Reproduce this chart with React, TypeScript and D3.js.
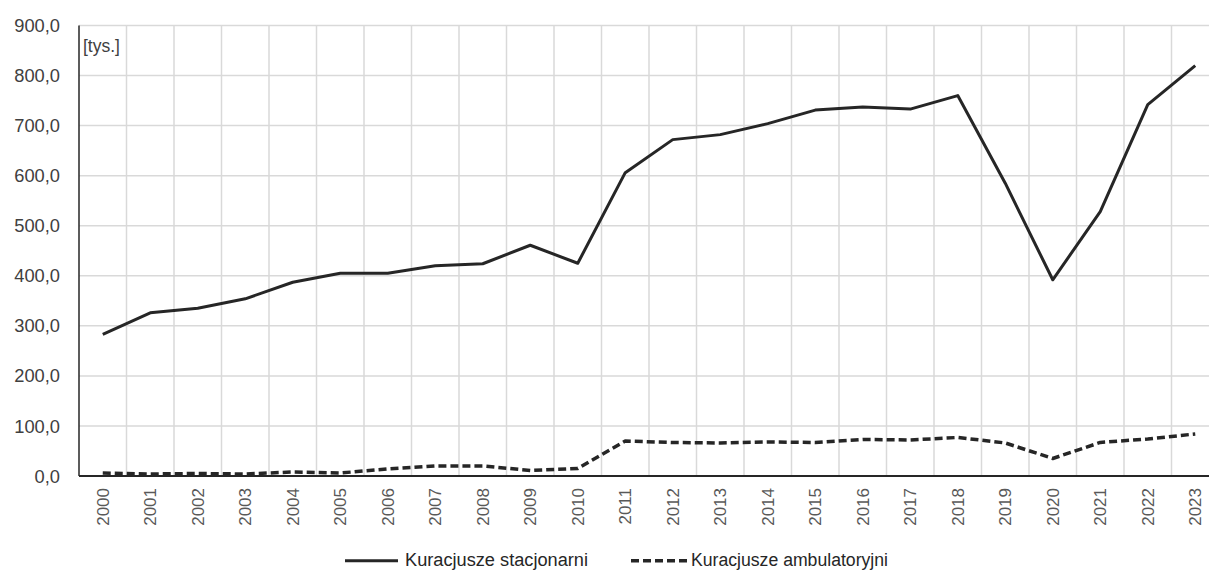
import React from "react";
import * as d3 from "d3";

const years: string[] = [
  "2000","2001","2002","2003","2004","2005","2006","2007","2008","2009","2010","2011",
  "2012","2013","2014","2015","2016","2017","2018","2019","2020","2021","2022","2023",
];
const stacjonarni: number[] = [
  283, 326, 335, 354, 387, 405, 405, 420, 424, 461, 425, 606,
  672, 682, 704, 731, 737, 733, 760, 585, 392, 528, 742, 820,
];
const ambulatoryjni: number[] = [
  6, 4, 5, 4, 8, 6, 14, 20, 20, 11, 15, 70,
  67, 66, 68, 67, 73, 72, 77, 66, 35, 67, 74, 84,
];
const yTicks: number[] = [0, 100, 200, 300, 400, 500, 600, 700, 800, 900];
const seriesNames: string[] = ["Kuracjusze stacjonarni", "Kuracjusze ambulatoryjni"];
const unitLabel = "[tys.]";

const W = 1209;
const H = 570;
const left = 79;
const bandW = 47.5;
const right = left + bandW * years.length;
const top = 25.5;
const bottom = 476;

export default function App() {
  const x = d3.scaleBand<string>().domain(years).range([left, right]).padding(0);
  const y = d3.scaleLinear().domain([0, 900]).range([bottom, top]);
  const cx = (yr: string) => (x(yr) as number) + x.bandwidth() / 2;
  const fmt = (v: number) => d3.format(".1f")(v).replace(".", ",");

  const line = d3
    .line<number>()
    .x((_, i) => cx(years[i]))
    .y((v) => y(v));

  const font = "'Liberation Sans', Arial, sans-serif";

  return (
    <svg
      width={W}
      height={H}
      style={{ position: "absolute", left: 0, top: 0, background: "#fff" }}
      fontFamily={font}
    >
      <rect x={0} y={0} width={W} height={H} fill="#fff" />
      {/* horizontal grid */}
      {yTicks.map((t) => (
        <line key={"h" + t} x1={left} x2={W} y1={y(t)} y2={y(t)} stroke="#d9d9d9" strokeWidth={1.5} />
      ))}
      {/* vertical grid */}
      {years.slice(1).map((yr) => (
        <line
          key={"v" + yr}
          x1={x(yr) as number}
          x2={x(yr) as number}
          y1={top}
          y2={bottom}
          stroke="#d9d9d9"
          strokeWidth={1.5}
        />
      ))}
      {/* axes */}
      <line x1={left} x2={left} y1={top} y2={bottom} stroke="#262626" strokeWidth={1.5} />
      <line x1={left} x2={W} y1={bottom} y2={bottom} stroke="#262626" strokeWidth={2} />
      {/* y labels */}
      {yTicks.map((t) => (
        <text key={"yl" + t} x={60} y={y(t)} dy="0.36em" textAnchor="end" fontSize={18.3} fill="#404040">
          {fmt(t)}
        </text>
      ))}
      {/* x labels */}
      {years.map((yr) => (
        <text
          key={"xl" + yr}
          transform={`translate(${cx(yr)},488) rotate(-90)`}
          dy="0.35em"
          textAnchor="end"
          fontSize={17}
          fill="#595959"
        >
          {yr}
        </text>
      ))}
      <text x={83} y={52} fontSize={17.5} fill="#404040">
        {unitLabel}
      </text>
      {/* series */}
      <path d={line(stacjonarni) || ""} fill="none" stroke="#262626" strokeWidth={3} strokeLinejoin="round" />
      <path
        d={line(ambulatoryjni) || ""}
        fill="none"
        stroke="#262626"
        strokeWidth={3.5}
        strokeDasharray="8,4"
        strokeLinejoin="round"
      />
      {/* legend */}
      <line x1={345} x2={398} y1={560.7} y2={560.7} stroke="#262626" strokeWidth={3} />
      <text
        x={405}
        y={565.5}
        fontSize={18}
        fill="#262626"
        textLength={183}
        lengthAdjust="spacingAndGlyphs"
      >
        {seriesNames[0]}
      </text>
      <line x1={631} x2={687} y1={560.7} y2={560.7} stroke="#262626" strokeWidth={3.5} strokeDasharray="8,4" />
      <text
        x={691}
        y={565.5}
        fontSize={18}
        fill="#262626"
        textLength={197}
        lengthAdjust="spacingAndGlyphs"
      >
        {seriesNames[1]}
      </text>
    </svg>
  );
}
